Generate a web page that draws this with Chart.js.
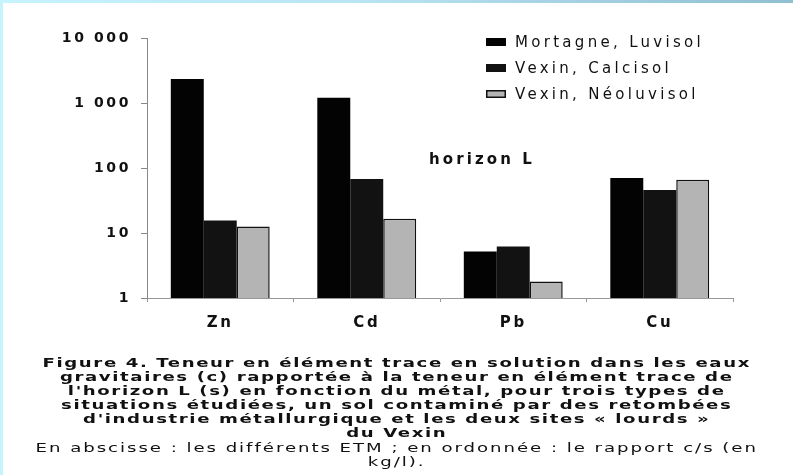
<!DOCTYPE html>
<html>
<head>
<meta charset="utf-8">
<script src="https://cdn.jsdelivr.net/npm/chart.js@4.4.1/dist/chart.umd.min.js"></script>
<style>
	html, body { margin: 0; padding: 0; }
	body { width: 793px; height: 475px; position: relative; background: #fff; overflow: hidden; }
	#frameTop { position: absolute; left: 0; top: 0; width: 793px; height: 3px; background: linear-gradient(to right, #c6f4fd, #b9e4f3 45%, #8fbfd1); }
	#frameLeft { position: absolute; left: 0; top: 0; width: 3px; height: 475px; background: #c6f4fd; }
	#chart { position: absolute; left: 0; top: 0; }
	#caption { position: absolute; left: 0; top: 356px; width: 793px; text-align: center; font-family: "DejaVu Sans", sans-serif; color: #111; line-height: 14.1px; }
	#caption div { transform: scaleX(1.45); transform-origin: 396px 0; white-space: nowrap; }
	.b { font-weight: bold; font-size: 12.5px; letter-spacing: 1.1px; }
	.n { font-size: 12.5px; letter-spacing: 1.35px; }
</style>
</head>
<body>
<canvas id="chart" width="793" height="475"></canvas>
<div id="caption">
	<div class="b">Figure 4. Teneur en élément trace en solution dans les eaux</div>
	<div class="b">gravitaires (c) rapportée à la teneur en élément trace de</div>
	<div class="b">l'horizon L (s) en fonction du métal, pour trois types de</div>
	<div class="b">situations étudiées, un sol contaminé par des retombées</div>
	<div class="b">d'industrie métallurgique et les deux sites « lourds »</div>
	<div class="b">du Vexin</div>
	<div class="n">En abscisse : les différents ETM ; en ordonnée : le rapport c/s (en</div>
	<div class="n">kg/l).</div>
</div>
<div id="frameTop"></div>
<div id="frameLeft"></div>
<script>
const categories = ["Zn", "Cd", "Pb", "Cu"];
const mortagneLuvisol = [2350, 1200, 5.2, 70];
const vexinCalcisol = [15.6, 68, 6.2, 46];
const vexinNeoluvisol = [12.6, 16.6, 1.8, 66];
const seriesLabels = ["Mortagne, Luvisol", "Vexin, Calcisol", "Vexin, Néoluvisol"];
const yTicks = [1, 10, 100, 1000, 10000];

// thousands with a plain space: 10 000
function fmt(v) {
	return String(v).replace(/\B(?=(\d{3})+(?!\d))/g, " ");
}

// the scanned font is very wide, so spread the canvas text a bit
const spacing = {
	id: "spacing",
	beforeDraw(chart) {
		chart.ctx.letterSpacing = "2.6px";
	}
};

// legend block and "horizon L" note, drawn over the plot
const notes = {
	id: "notes",
	afterDraw(chart) {
		const ctx = chart.ctx;
		ctx.save();
		ctx.font = "15px 'DejaVu Sans'";
		ctx.letterSpacing = "3.3px";
		ctx.textBaseline = "middle";
		chart.data.datasets.forEach((ds, i) => {
			const y = 43 + i * 26;
			ctx.fillStyle = ds.backgroundColor;
			ctx.fillRect(486, y - 5, 20, 8);
			if (ds.borderWidth) {
				ctx.strokeStyle = ds.borderColor;
				ctx.lineWidth = 1.5;
				ctx.strokeRect(486.75, y - 4.25, 18.5, 6.5);
			}
			ctx.fillStyle = "#111";
			ctx.fillText(ds.label, 515, y);
		});
		ctx.font = "bold 15px 'DejaVu Sans'";
		ctx.letterSpacing = "3.1px";
		ctx.fillText("horizon L", 429, 160);
		ctx.restore();
	}
};

new Chart(document.getElementById("chart"), {
	type: "bar",
	data: {
		labels: categories,
		datasets: [
			{ label: seriesLabels[0], data: mortagneLuvisol, backgroundColor: "#030303", borderWidth: 0 },
			{ label: seriesLabels[1], data: vexinCalcisol, backgroundColor: "#121212", borderWidth: 0 },
			{ label: seriesLabels[2], data: vexinNeoluvisol, backgroundColor: "#b4b4b4", borderColor: "#111", borderWidth: 1.5 }
		]
	},
	options: {
		responsive: false,
		animation: false,
		layout: { padding: { left: 0, right: 60, top: 38, bottom: 137 } },
		datasets: { bar: { categoryPercentage: 0.675, barPercentage: 1.0 } },
		plugins: {
			legend: { display: false },
			tooltip: { enabled: false }
		},
		scales: {
			x: {
				grid: { display: true, drawOnChartArea: false, drawTicks: true, tickLength: 4, color: "#999" },
				border: { display: true, color: "#999", width: 1 },
				ticks: { color: "#111", font: { family: "DejaVu Sans", size: 15, weight: "bold" }, padding: 12 },
				afterFit(scale) { scale.height = 40; }
			},
			y: {
				type: "logarithmic",
				min: 1,
				max: 10000,
				grid: { display: true, drawOnChartArea: false, drawTicks: true, tickLength: 6, color: "#888" },
				border: { display: true, color: "#888", width: 1 },
				afterBuildTicks(scale) {
					scale.ticks = yTicks.map(v => ({ value: v }));
				},
				ticks: {
					color: "#111",
					font: { family: "DejaVu Sans", size: 14, weight: "bold" },
					padding: 10,
					callback: v => fmt(v)
				},
				afterFit(scale) { scale.width = 147; }
			}
		}
	},
	plugins: [spacing, notes]
});
</script>
</body>
</html>
